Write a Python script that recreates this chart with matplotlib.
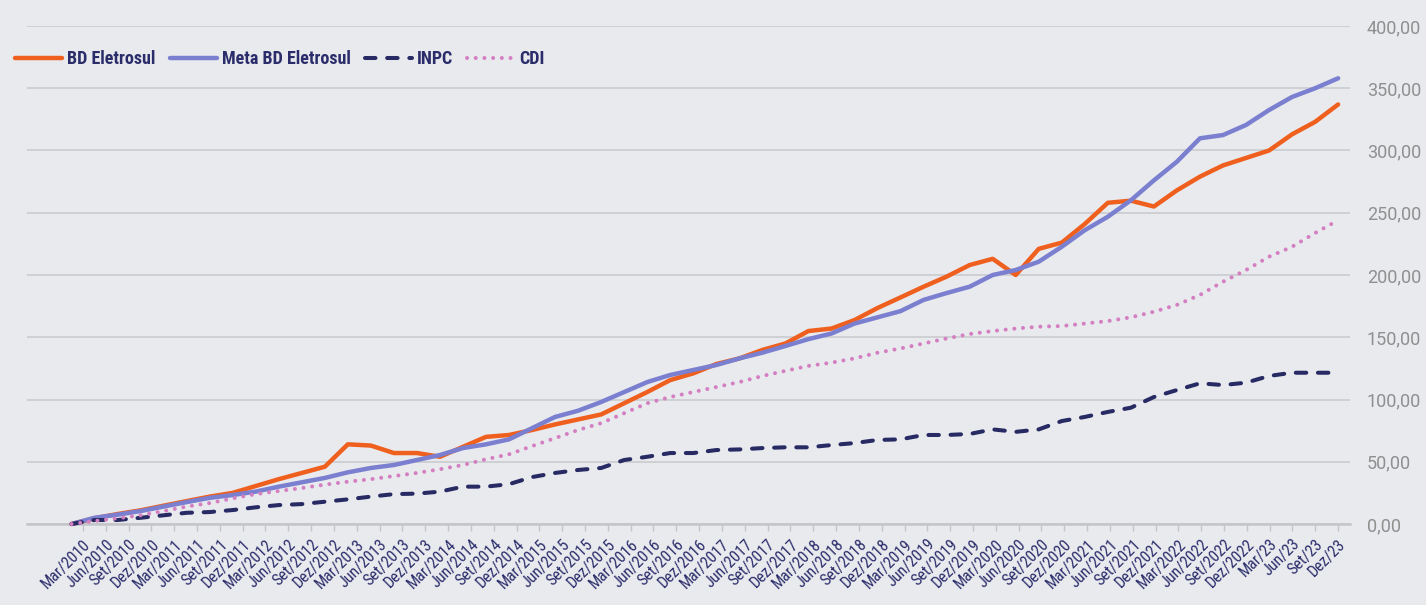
import numpy as np
import matplotlib
matplotlib.use("Agg")
import matplotlib.pyplot as plt
from matplotlib import font_manager

# Quarterly readings (Mar/2010 .. Dez/2023)
bd_eletrosul = [0, 4.6, 8, 11, 14.7, 18.4, 22, 25, 30.5, 36, 41, 46,
                64, 63, 57, 57, 54, 62, 70, 71.5, 75.5, 80, 84, 88,
                97, 106, 115.6, 121, 128.5, 133, 139.8, 145, 155, 157, 163.8, 173.5,
                182, 190.6, 198.7, 208, 213, 200, 221, 226, 241, 258, 259.7, 255,
                268, 279, 288, 294, 300, 313, 323, 337]
meta_bd = [0, 5, 7.5, 10.4, 14, 17.6, 21, 23.3, 26, 30, 33.5, 37,
           41.5, 45, 47.4, 51.4, 55.4, 61, 64, 68, 77, 86, 91, 98,
           106, 114, 119.7, 123.7, 127.7, 133, 137.6, 143, 148.5, 153, 161, 166,
           171, 180, 185.5, 190.6, 200, 204, 210.7, 222.7, 236, 246.8, 260, 276,
           291, 309.8, 312.4, 320.5, 332.5, 343, 350, 358]
inpc = [0, 3.2, 3.2, 5, 7, 9, 9.6, 11.2, 13.4, 15.2, 16, 17.9,
        19.8, 22, 24, 24.4, 26, 30, 30, 32, 37.7, 41, 43.4, 45,
        51.4, 54, 57, 57, 59.4, 59.9, 61, 61.6, 61.6, 63.4, 65, 67.5,
        68, 71.5, 71.5, 72.3, 76, 74, 76, 82.7, 86, 90, 93.4, 102,
        107.6, 113, 111.6, 113.5, 118.9, 121.5, 121.5, 121.5]
cdi = [0, 2.4, 4.6, 7, 10.4, 14, 16.8, 20.6, 24, 26.5, 28.9, 31.6,
       34, 36, 38.5, 41, 44, 47.4, 52, 56, 62.6, 69, 75.5, 81,
       89, 97, 102, 106, 110, 114, 118.9, 123, 127, 129.6, 133, 137.6,
       141, 145, 149, 152.6, 155, 157, 158.5, 159, 161, 163, 166, 170.5,
       176, 184, 194.6, 204, 214.7, 222.7, 233.7, 244]

months = ["Mar", "Jun", "Set", "Dez"]
years = list(range(2010, 2023))
tick_labels = [f"{m}/{y}" for y in years for m in months] + [f"{m}/23" for m in months]

y_ticks = np.arange(0, 401, 50)

# pick a narrow family if one is installed, otherwise Roboto
available = {f.name for f in font_manager.fontManager.ttflist}
narrow = "Roboto"
for cand in ["Liberation Sans Narrow", "Roboto Condensed", "DejaVu Sans Condensed",
             "Open Sans Condensed", "Noto Sans Condensed"]:
    if cand in available:
        narrow = cand
        break
leg_size = 13 if narrow != "Roboto" else 11

bg = "#e9eaee"
navy = "#2b2d6b"

fig = plt.figure(figsize=(14.26, 6.05), dpi=100, facecolor=bg)
ax = fig.add_axes([27 / 1426, 81 / 605, (1350 - 27) / 1426, (524 - 26) / 605])
ax.set_facecolor(bg)

x = np.linspace(-0.5, 55, len(bd_eletrosul))

ax.plot(x, bd_eletrosul, color="#ef5f1e", lw=3.2, label="BD Eletrosul",
        solid_capstyle="round", solid_joinstyle="round", zorder=3, clip_on=False)
ax.plot(x, meta_bd, color="#7b7fcf", lw=3.2, label="Meta BD Eletrosul",
        solid_capstyle="round", solid_joinstyle="round", zorder=4, clip_on=False)
ax.plot(x, inpc, color="#272a63", lw=2.9, ls=(0, (2.6, 2.9)), dash_capstyle="round",
        label="INPC", zorder=5, clip_on=False)
ax.plot(x, cdi, color="#d47fc2", lw=2.9, ls=(0, (0.01, 2.15)), dash_capstyle="round",
        label="CDI", zorder=6, clip_on=False)

ax.set_xlim(-2.45, 55.52)
ax.set_ylim(0, 400)

ax.set_xticks(np.arange(len(tick_labels)))
ax.set_xticklabels(tick_labels, rotation=45, ha="right", rotation_mode="anchor",
                   color=navy, fontsize=11.5, family=narrow)
ax.tick_params(axis="x", length=5, width=1, color="#c4c5c9", pad=4)

ax.yaxis.tick_right()
ax.set_yticks(y_ticks)
ax.set_yticklabels([f"{v:.2f}".replace(".", ",") for v in y_ticks],
                   color="#8f8f8f", fontsize=13, family="Roboto")
ax.tick_params(axis="y", length=0, pad=12)

ax.grid(axis="y", color="#cfd0d4", lw=1.4, zorder=0)
ax.set_axisbelow(True)
for side in ["top", "left", "right"]:
    ax.spines[side].set_visible(False)
ax.spines["bottom"].set_color("#c4c5c9")
ax.spines["bottom"].set_linewidth(1.8)

leg = ax.legend(loc="center left", bbox_to_anchor=(-0.009, 0.934), ncol=4, frameon=False,
                borderpad=0, borderaxespad=0,
                handlelength=34 / leg_size, handletextpad=3.6 / leg_size,
                columnspacing=10 / leg_size,
                prop={"family": narrow, "weight": "bold", "size": leg_size})
for t in leg.get_texts():
    t.set_color(navy)

fig.savefig("out.png", dpi=100, facecolor=bg)
